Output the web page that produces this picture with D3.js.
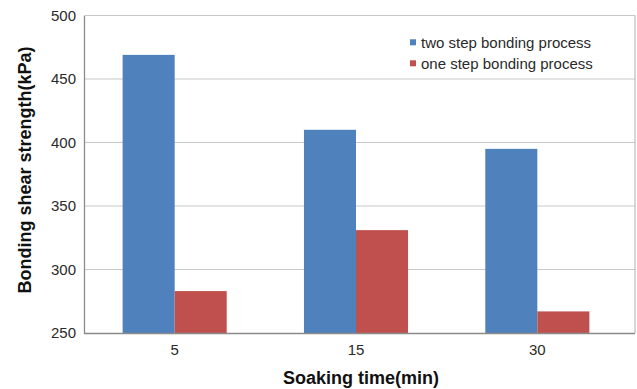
<!DOCTYPE html>
<html>
<head>
<meta charset="utf-8">
<script src="https://cdn.jsdelivr.net/npm/d3@7"></script>
<style>
  html, body { margin: 0; padding: 0; background: #fff; }
  svg { display: block; font-family: "Liberation Sans", Arial, sans-serif; }
</style>
</head>
<body>
<svg id="chart" width="637" height="389"></svg>
<script>
// Soaking time categories (min)
const categories = ["5", "15", "30"];
// Bonding shear strength (kPa) for each process
const twoStep = [469, 410, 395];
const oneStep = [283, 331, 267];
const seriesNames = ["two step bonding process", "one step bonding process"];
const seriesColors = ["#4F81BD", "#C0504D"];
const yTicks = [250, 300, 350, 400, 450, 500];

const svg = d3.select("#chart");
const plotLeft = 84, plotTop = 15.5, plotBottom = 333, frameRight = 635, bandRight = 628;

const y = d3.scaleLinear().domain([250, 500]).range([plotBottom, plotTop]);
const x = d3.scaleBand().domain(categories).range([plotLeft, bandRight])
  .paddingInner(0.426).paddingOuter(0.213);
const xs = d3.scaleBand().domain(seriesNames).range([0, x.bandwidth()]);

// gridlines
svg.append("g").selectAll("line").data(yTicks.filter(d => d > 250)).join("line")
  .attr("x1", plotLeft).attr("x2", frameRight)
  .attr("y1", d => y(d)).attr("y2", d => y(d))
  .attr("stroke", "#c9c9c9").attr("stroke-width", 1.2);

// right frame edge
svg.append("line").attr("x1", frameRight).attr("x2", frameRight)
  .attr("y1", plotTop).attr("y2", plotBottom).attr("stroke", "#b0b0b0").attr("stroke-width", 1);

// bars
const rows = categories.map((c, i) => ({ c, vals: [twoStep[i], oneStep[i]] }));
const groups = svg.append("g").selectAll("g").data(rows).join("g")
  .attr("transform", d => `translate(${x(d.c)},0)`);
groups.selectAll("rect").data(d => d.vals.map((v, k) => ({ v, k }))).join("rect")
  .attr("x", d => xs(seriesNames[d.k]))
  .attr("width", xs.bandwidth())
  .attr("y", d => y(d.v))
  .attr("height", d => plotBottom - y(d.v))
  .attr("fill", d => seriesColors[d.k]);

// y axis
const yAxis = svg.append("g").attr("transform", `translate(${plotLeft},0)`)
  .call(d3.axisLeft(y).tickValues(yTicks).tickSize(0).tickPadding(8));
yAxis.select(".domain").attr("stroke", "#8a8a8a").attr("stroke-width", 1.3);
yAxis.selectAll("text").attr("font-size", 15).attr("fill", "#2a2a2a")
  .attr("font-family", "Liberation Sans, Arial, sans-serif");

// x axis
const xAxis = svg.append("g").attr("transform", `translate(0,${plotBottom})`)
  .call(d3.axisBottom(x).tickSize(0).tickPadding(11));
xAxis.select(".domain").attr("d", `M${plotLeft},0.5H${frameRight}`)
  .attr("stroke", "#8a8a8a").attr("stroke-width", 1.3);
xAxis.selectAll("text").attr("font-size", 15).attr("fill", "#2a2a2a")
  .attr("font-family", "Liberation Sans, Arial, sans-serif");

// axis titles
svg.append("text")
  .attr("transform", `translate(31,170) rotate(-90)`)
  .attr("text-anchor", "middle")
  .attr("font-size", 18).attr("font-weight", "bold").attr("fill", "#111")
  .text("Bonding shear strength(kPa)");
svg.append("text")
  .attr("x", 361).attr("y", 384)
  .attr("text-anchor", "middle")
  .attr("font-size", 18).attr("font-weight", "bold").attr("fill", "#111")
  .text("Soaking time(min)");

// legend
const legend = svg.append("g").attr("transform", "translate(410,42.3)");
const items = legend.selectAll("g").data(seriesNames).join("g")
  .attr("transform", (d, i) => `translate(0,${i * 21})`);
items.append("rect").attr("x", 0).attr("y", -3).attr("width", 6).attr("height", 6)
  .attr("fill", (d, i) => seriesColors[i]);
items.append("text").attr("x", 11).attr("y", 5.3)
  .attr("font-size", 15).attr("fill", "#2a2a2a").text(d => d);
</script>
</body>
</html>
